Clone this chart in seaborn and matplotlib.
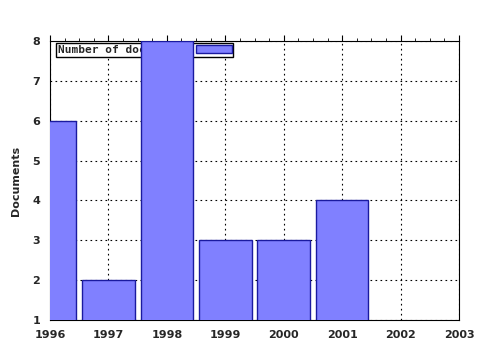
import matplotlib
matplotlib.use("Agg")
import matplotlib.pyplot as plt
import seaborn as sns
import pandas as pd
from matplotlib.ticker import MultipleLocator

years = [1996, 1997, 1998, 1999, 2000, 2001]
documents = [6, 2, 8, 3, 3, 4]
x_ticks = [1996, 1997, 1998, 1999, 2000, 2001, 2002, 2003]
y_ticks = [1, 2, 3, 4, 5, 6, 7, 8]
series_label = "Number of documents"
y_label = "Documents"

sns.set_style("white")
plt.rcParams['font.family'] = ['DejaVu Sans']

df = pd.DataFrame({"year": years, "docs": documents})

fig = plt.figure(figsize=(4.8, 3.5), dpi=100)
ax = fig.add_axes([50/480, 30/350, 409/480, 279/350])

sns.barplot(data=df, x="year", y="docs", native_scale=True, width=0.9,
            color="#8080ff", saturation=1, edgecolor="#1a1aa0", linewidth=1,
            ax=ax, zorder=3, label=series_label)

ax.set_xlim(1996, 2003)
ax.set_ylim(1, 8)
ax.set_xticks(x_ticks)
ax.set_yticks(y_ticks)
ax.xaxis.set_minor_locator(MultipleLocator(0.25))
ax.set_xticklabels([str(t) for t in x_ticks], fontweight="bold", fontsize=8)
ax.set_yticklabels([str(t) for t in y_ticks], fontweight="bold", fontsize=8)
ax.set_xlabel("")
ax.set_ylabel(y_label, fontweight="bold", fontsize=8, labelpad=8)

ax.grid(True, which="major", color="black", linestyle=(0, (1.5, 3)), linewidth=0.8, zorder=1)
ax.set_axisbelow(True)
ax.tick_params(which="major", direction="out", length=4, width=0.8, color="black",
               top=True, right=False, pad=3)
ax.tick_params(which="minor", direction="out", length=2, width=0.6, color="black",
               top=True)
for s in ax.spines.values():
    s.set_color("black")
    s.set_linewidth(0.8)

leg = ax.legend(loc="upper left", bbox_to_anchor=(0.015, 0.992), frameon=True,
                fancybox=False, shadow=False, markerfirst=False,
                prop={"family": "DejaVu Sans Mono", "weight": "bold", "size": 8},
                borderpad=0.15, handlelength=3.2, handleheight=0.6,
                handletextpad=0.9, borderaxespad=0)
leg.get_frame().set_edgecolor("black")
leg.get_frame().set_linewidth(1)
leg.get_frame().set_alpha(1)
leg.set_zorder(2.5)

fig.savefig("out.png", dpi=100, facecolor="white")
